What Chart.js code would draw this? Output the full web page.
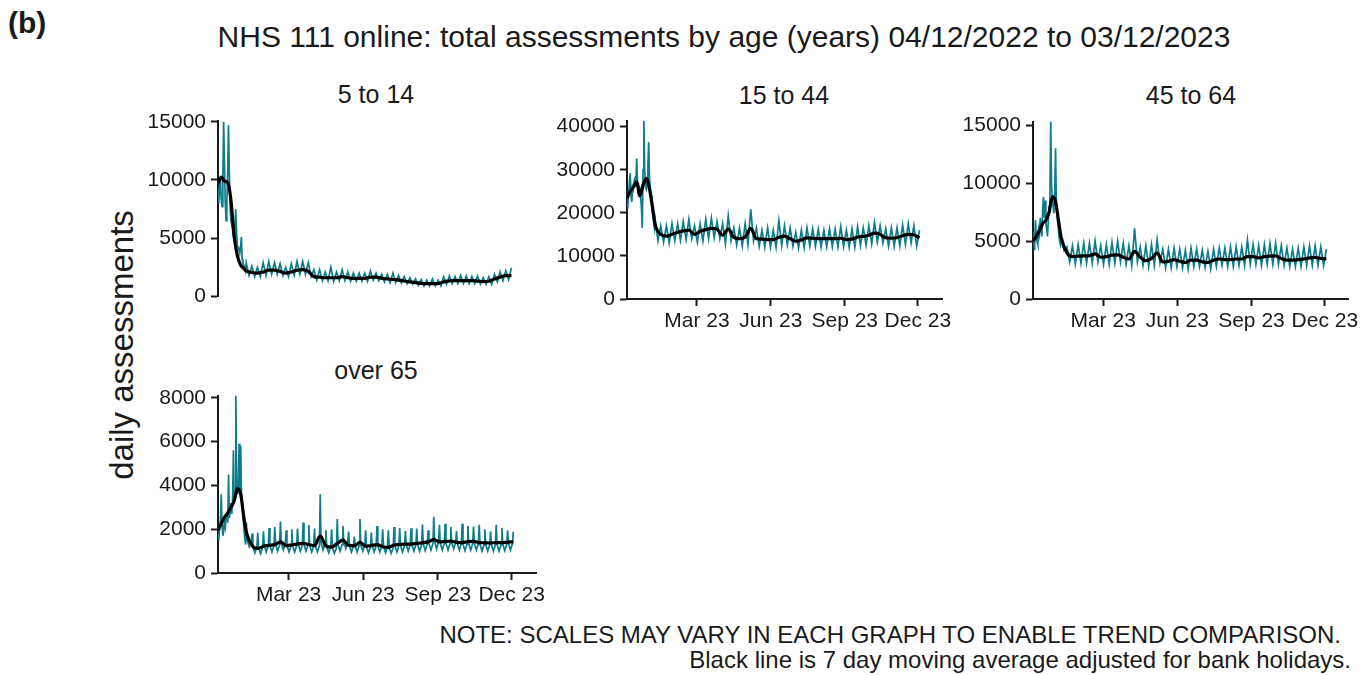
<!DOCTYPE html>
<html>
<head>
<meta charset="utf-8">
<title>NHS 111 online assessments by age</title>
<script src="https://cdn.jsdelivr.net/npm/chart.js@4.4.0/dist/chart.umd.min.js"></script>
<style>
  html, body { margin: 0; padding: 0; background: #fff; overflow: hidden; }
  body { width: 1362px; height: 675px; position: relative;
         font-family: 'Liberation Sans', Arial, sans-serif; color: #1a1a1a; }
  canvas { position: absolute; }
  .txt { position: absolute; white-space: nowrap; line-height: 1; }
  .c   { transform: translate(-50%, -50%); }
  .r   { transform: translateY(-50%); }
</style>
</head>
<body>

<div class="txt" style="left:8px; top:8px; font-size:30px; font-weight:bold;">(b)</div>
<div class="txt c" style="left:724px; top:37px; font-size:30px;">NHS 111 online: total assessments by age (years) 04/12/2022 to 03/12/2023</div>
<div class="txt c" style="left:121px; top:345px; font-size:33px; transform:translate(-50%,-50%) rotate(-90deg);">daily assessments</div>

<div class="txt c" style="left:376px;  top:94px;  font-size:25px;">5 to 14</div>
<div class="txt c" style="left:784px;  top:95px;  font-size:25px;">15 to 44</div>
<div class="txt c" style="left:1191px; top:95px;  font-size:25px;">45 to 64</div>
<div class="txt c" style="left:376px;  top:370px; font-size:25px;">over 65</div>

<div class="txt r" style="right:21px; top:635px; font-size:24px;">NOTE: SCALES MAY VARY IN EACH GRAPH TO ENABLE TREND COMPARISON.</div>
<div class="txt r" style="right:11px; top:660px; font-size:24px;">Black line is 7 day moving average adjusted for bank holidays.</div>

<canvas id="c514"></canvas>
<canvas id="c1544"></canvas>
<canvas id="c4564"></canvas>
<canvas id="c65"></canvas>

<script>
'use strict';
/* NHS 111 online, daily assessments by age band, 04/12/2022 – 03/12/2023.
   Teal = daily count, black = 7 day moving average. */

// ─── Dates / x axis ───────────────────────────────────────────────────────
const START_DATE  = '2022-12-04';                 // day 0 (a Sunday)
const xTickDates  = ['2023-03-01', '2023-06-01', '2023-09-01', '2023-12-01'];
const xTickLabels = ['Mar 23', 'Jun 23', 'Sep 23', 'Dec 23'];

// ─── Daily counts, first five weeks (day 0 .. 34), read day by day ─────────
const early514  = [9200, 8000, 9500, 10300, 8400, 7700, 9800, 15000, 11500, 8000, 6500, 8200, 10500, 14700, 10800,
                   7600, 6500, 6200, 5800, 5200, 4800, 6000, 7500, 5600, 4400, 4200, 4000, 3700, 4300, 5100,
                   3200, 2800, 2700, 2500, 2200];
const early1544 = [23000, 21000, 25000, 27000, 29200, 24000, 22500, 26000, 25500, 27500, 28000, 26000, 32600, 27500, 25000,
                   26000, 25000, 23500, 21000, 16500, 30000, 41400, 30000, 26000, 25500, 27000, 31000, 36400, 28000, 26000,
                   24000, 21000, 19500, 18000, 16500];
const early4564 = [4500, 5800, 4200, 6800, 5600, 5000, 4700, 6000, 5600, 7000, 6000, 5400, 7800, 8800, 7000,
                   8500, 6600, 6000, 5400, 6800, 8000, 9000, 15300, 9800, 8600, 8000, 7400, 9500, 13000, 8000,
                   7000, 6400, 5600, 5000, 4700];
const early65   = [1800, 1500, 2100, 2400, 3600, 2200, 1700, 1900, 2300, 2100, 2500, 2700, 2300, 4500, 2500,
                   2800, 3200, 2700, 3400, 5600, 3300, 3600, 8100, 4200, 3600, 3900, 5900, 3800, 5800, 3300,
                   3100, 2500, 2000, 1600, 1300];

// ─── From week 5 on: Sunday high (days 35 .. 364) and weekday low ─────────
const hi514  = [2900, 2600, 2500, 2900, 3000, 2900, 2800, 2500, 2800, 3000, 3000, 2900, 2300, 2300, 2100, 2500,
                2100, 2300, 2100, 2000, 2000, 2000, 2200, 2000, 1900, 1900, 2000, 1800, 1700, 1600, 1500, 1450,
                1400, 1500, 1400, 1700, 1750, 1700, 1800, 1750, 1700, 1750, 1600, 1700, 1900, 2100, 2200, 2450];
const lo514  = [1800, 1700, 1700, 1800, 1900, 1900, 1800, 1700, 1800, 1900, 1900, 1700, 1400, 1350, 1350, 1300,
                1350, 1350, 1300, 1300, 1300, 1300, 1400, 1350, 1250, 1200, 1200, 1150, 1100, 1050, 950, 900,
                900, 900, 900, 1050, 1100, 1100, 1100, 1100, 1100, 1050, 1050, 1050, 1250, 1350, 1450];

const hi1544 = [18500, 17000, 17000, 17500, 17500, 18000, 18500, 17000, 17500, 18500, 18800, 18000, 17500, 19300, 16500, 16500,
                17500, 20800, 16500, 16000, 16500, 16000, 18200, 17000, 16500, 15500, 16000, 16500, 16300, 16200, 16000, 16300,
                16200, 16800, 16000, 16300, 16800, 16500, 17000, 17800, 17000, 16300, 16500, 16500, 17200, 17500, 17000, 16000];
const lo1544 = [13500, 13200, 13000, 13500, 13600, 13800, 14000, 13200, 13500, 14000, 14200, 14000, 12800, 13500, 12500, 12300,
                12600, 13500, 12200, 12000, 12000, 12000, 12400, 12600, 12200, 11800, 11900, 12300, 12200, 12100, 12100, 12100,
                12100, 12200, 12000, 12000, 12400, 12500, 12800, 13200, 13000, 12300, 12200, 12300, 12700, 13000, 12300];

const hi4564 = [5200, 4500, 4600, 4700, 4800, 4800, 5000, 4600, 4700, 4900, 5000, 4800, 4600, 6100, 4500, 4600,
                4700, 5100, 4300, 4300, 4400, 4300, 4200, 4400, 4300, 4200, 4100, 4300, 4400, 4400, 4500, 4500,
                4500, 5100, 4700, 4600, 4700, 4800, 4800, 4600, 4400, 4300, 4400, 4500, 4600, 4600, 4500, 4300];
const lo4564 = [4200, 3200, 3000, 3100, 3100, 3100, 3200, 3000, 3000, 3100, 3200, 3000, 2900, 3200, 2900, 2800,
                2900, 3100, 2700, 2700, 2800, 2700, 2600, 2800, 2800, 2700, 2600, 2800, 2900, 2800, 2800, 2900,
                2900, 3000, 3000, 2900, 3000, 3000, 3000, 2900, 2800, 2800, 2800, 2900, 2900, 2900, 2900];

// over 65: sharp Sunday spike, Monday/Saturday shoulder, midweek low
const hi65   = [2300, 1800, 1850, 1900, 2050, 2100, 2350, 1950, 2000, 2030, 2300, 2190, 2030, 3600, 1950, 2000,
                2460, 2150, 1890, 1660, 2460, 1950, 1850, 2150, 2000, 1950, 2100, 2050, 1920, 2040, 2030, 2210,
                1950, 2570, 2200, 2250, 2100, 1920, 2250, 2150, 2120, 2200, 2000, 1900, 2200, 2050, 1950, 1890];
const sh65   = [1500, 1200, 1150, 1250, 1250, 1300, 1350, 1250, 1250, 1300, 1300, 1250, 1250, 1400, 1200, 1150,
                1300, 1450, 1250, 1250, 1300, 1200, 1250, 1250, 1200, 1150, 1250, 1250, 1300, 1300, 1300, 1320,
                1350, 1450, 1350, 1350, 1400, 1350, 1320, 1350, 1350, 1300, 1300, 1300, 1300, 1320, 1350];
const lo65   = [1200, 920, 880, 960, 960, 1000, 1050, 960, 960, 1000, 1000, 960, 960, 1050, 920, 900,
                1000, 1120, 960, 960, 1000, 920, 960, 960, 920, 900, 960, 960, 1000, 1000, 1000, 1020,
                1050, 1100, 1050, 1050, 1100, 1050, 1020, 1050, 1050, 1000, 1000, 1000, 1000, 1020, 1050];

// ─── 7 day moving average: days 0,4,..,32 then weekly 35 .. 364 ───────────
const maEarlyDays = [0, 4, 8, 12, 16, 20, 24, 28, 32];
const ma514  = [9700, 10250, 9900, 9800, 8300, 5200, 3500, 2700, 2400,
                2200, 2050, 2000, 2100, 2250, 2250, 2150, 2000, 2100, 2250, 2300, 2150, 1700, 1650, 1600, 1600,
                1600, 1700, 1600, 1550, 1550, 1550, 1650, 1650, 1550, 1500, 1450, 1400, 1320, 1250, 1180, 1120,
                1100, 1100, 1100, 1250, 1330, 1350, 1350, 1350, 1350, 1320, 1280, 1300, 1500, 1650, 1780, 1780];
const ma1544 = [23400, 25000, 26000, 27200, 23900, 26500, 28000, 25500, 21000,
                17300, 15000, 14600, 15000, 15500, 15800, 16000, 15000, 15700, 16100, 16400, 16200, 14800, 16200, 14300, 14000,
                14400, 16400, 14000, 13900, 13800, 13800, 14300, 14600, 14000, 13400, 13700, 14200, 14100, 14000, 14000, 14000,
                14000, 14100, 13800, 13900, 14400, 14500, 14800, 15300, 15000, 14200, 14100, 14200, 14700, 15000, 14900, 14200];
const ma4564 = [5000, 5400, 5900, 6500, 6800, 7500, 8800, 8400, 6600,
                5300, 4000, 3650, 3700, 3720, 3740, 3900, 3600, 3650, 3780, 3800, 3600, 3450, 4100, 3600, 3300,
                3500, 3950, 3200, 3250, 3400, 3250, 3150, 3350, 3350, 3200, 3150, 3350, 3450, 3400, 3400, 3450,
                3450, 3650, 3650, 3550, 3650, 3700, 3720, 3500, 3350, 3350, 3400, 3450, 3550, 3580, 3500, 3450];
const ma65   = [1950, 2250, 2550, 2750, 3000, 3300, 3850, 3600, 2500,
                1850, 1250, 1120, 1220, 1260, 1300, 1420, 1250, 1280, 1330, 1350, 1300, 1250, 1700, 1240, 1180,
                1350, 1500, 1260, 1240, 1400, 1220, 1250, 1300, 1200, 1170, 1280, 1300, 1320, 1320, 1350, 1380,
                1420, 1530, 1420, 1440, 1460, 1400, 1390, 1430, 1440, 1390, 1380, 1370, 1390, 1390, 1410, 1420];

// ─── Y axis ticks ─────────────────────────────────────────────────────────
const yTicks514  = [0, 5000, 10000, 15000];
const yTicks1544 = [0, 10000, 20000, 30000, 40000];
const yTicks4564 = [0, 5000, 10000, 15000];
const yTicks65   = [0, 2000, 4000, 6000, 8000];

// ─── Look ─────────────────────────────────────────────────────────────────
const TEAL    = '#0E7C8B';
const INK     = '#1a1a1a';
const FONT    = "'Liberation Sans', Arial, sans-serif";
const X_MAX   = 392;     // axis runs a little past the last day
const Y_W     = 90;      // room for y tick labels
const X_H     = 45;      // room for x tick labels
const PAD_T   = 15;
const PAD_B   = 15;
const FIRST_WEEK = 5;    // weekly readings start on day 35

function dayOf(iso) {
  return Math.round((Date.parse(iso) - Date.parse(START_DATE)) / 86400000);
}

// daily series: first five weeks day by day, then per week a Sunday high
// plus the weekday readings listed in `week` ({ v: values, at: day offsets })
function dailyPoints(early, hi, week) {
  const pts = early.map((v, i) => ({ x: i, y: v }));
  hi.forEach((v, k) => {
    const sun = 7 * (FIRST_WEEK + k);
    pts.push({ x: sun, y: v });
    week.forEach(w => {
      if (k < w.v.length) w.at.forEach(o => pts.push({ x: sun + o, y: w.v[k] }));
    });
  });
  return pts.sort((a, b) => a.x - b.x);
}

function maPoints(ma) {
  return ma.map((v, i) => ({
    x: i < maEarlyDays.length ? maEarlyDays[i] : 7 * (FIRST_WEEK + i - maEarlyDays.length),
    y: v,
  }));
}

// panel boxes: plot area left/top/right/bottom in page pixels
const panels = [
  { id: 'c514',  early: early514,  hi: hi514,  week: [{ v: lo514,  at: [3.5] }], ma: ma514,
    yTicks: yTicks514,  yMax: 15100, showX: false, plot: { l: 218,  t: 118, r: 534,  b: 299 } },
  { id: 'c1544', early: early1544, hi: hi1544, week: [{ v: lo1544, at: [3.5] }], ma: ma1544,
    yTicks: yTicks1544, yMax: 41400, showX: true,  plot: { l: 627,  t: 118, r: 942,  b: 299 } },
  { id: 'c4564', early: early4564, hi: hi4564, week: [{ v: lo4564, at: [3.5] }], ma: ma4564,
    yTicks: yTicks4564, yMax: 15300, showX: true,  plot: { l: 1033, t: 119, r: 1350, b: 299 } },
  { id: 'c65',   early: early65,   hi: hi65,
    week: [{ v: sh65, at: [1, 6] }, { v: lo65, at: [3.5] }], ma: ma65,
    yTicks: yTicks65,   yMax: 8100,  showX: true,  plot: { l: 218,  t: 393, r: 536,  b: 573 } },
];

function axisLook() {
  return {
    border: { display: true, color: INK, width: 2 },
    grid:   { display: true, drawOnChartArea: false, drawTicks: true,
              tickLength: 7, tickWidth: 2, tickColor: INK },
  };
}

function makeChart(p) {
  const cv   = document.getElementById(p.id);
  const padR = Math.min(20, 1362 - p.plot.r);
  const left = p.plot.l - Y_W;
  const top  = p.plot.t - PAD_T;
  const w    = p.plot.r - left + padR;
  const h    = p.plot.b - top + (p.showX ? X_H : PAD_B);
  cv.width = w; cv.height = h;
  cv.style.left = left + 'px';
  cv.style.top  = top + 'px';

  return new Chart(cv, {
    type: 'line',
    data: {
      datasets: [
        { data: dailyPoints(p.early, p.hi, p.week), borderColor: TEAL, borderWidth: 1.7,
          pointRadius: 0, tension: 0, order: 2 },
        { data: maPoints(p.ma), borderColor: '#000', borderWidth: 3.2,
          pointRadius: 0, cubicInterpolationMode: 'monotone', order: 1 },
      ],
    },
    options: {
      responsive: false, animation: false, devicePixelRatio: 1,
      parsing: false, normalized: true,
      layout: { padding: { top: PAD_T, right: padR, bottom: p.showX ? 0 : PAD_B, left: 0 } },
      plugins: { legend: { display: false }, tooltip: { enabled: false } },
      scales: {
        x: {
          type: 'linear', min: 0, max: X_MAX, display: p.showX,
          ...axisLook(),
          ticks: { color: INK, font: { family: FONT, size: 21 }, padding: 3,
                   autoSkip: false, maxRotation: 0, minRotation: 0,
                   callback: (v, i) => xTickLabels[i] },
          afterBuildTicks: s => { s.ticks = xTickDates.map(d => ({ value: dayOf(d) })); },
          afterFit: s => { if (p.showX) s.height = X_H; },
        },
        y: {
          min: 0, max: p.yMax,
          ...axisLook(),
          ticks: { color: INK, font: { family: FONT, size: 21 }, padding: 5,
                   callback: v => String(v) },
          afterBuildTicks: s => { s.ticks = p.yTicks.map(v => ({ value: v })); },
          afterFit: s => { s.width = Y_W; },
        },
      },
    },
  });
}

panels.forEach(makeChart);
</script>
</body>
</html>
